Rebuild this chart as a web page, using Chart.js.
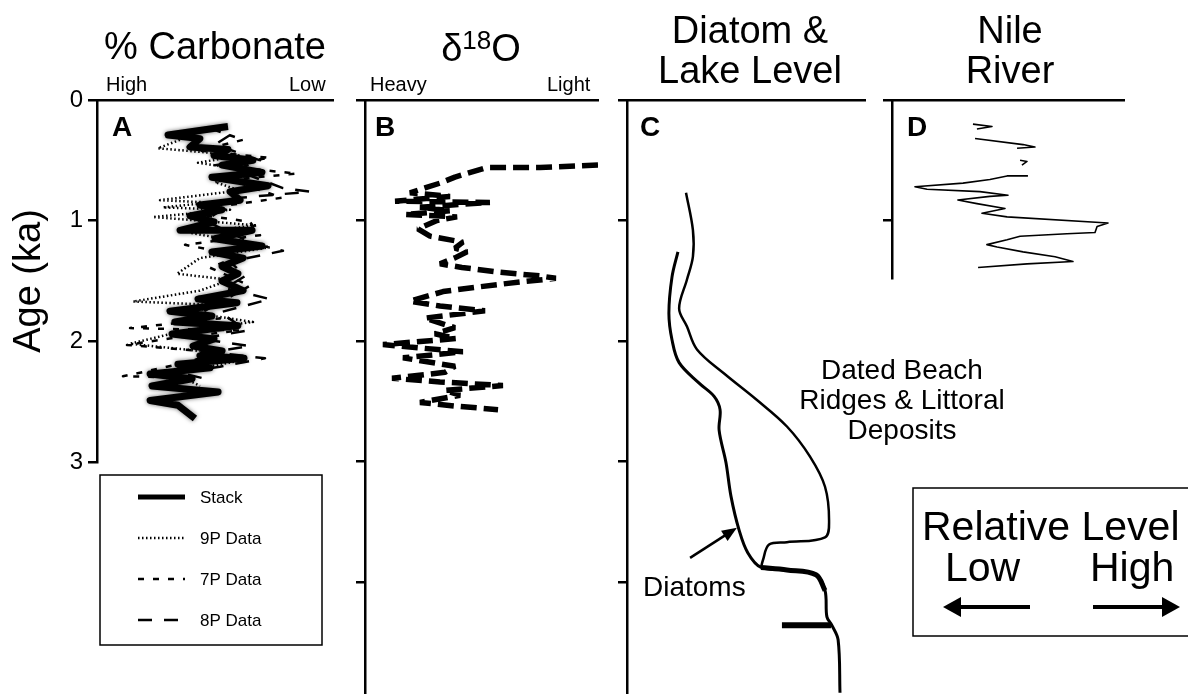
<!DOCTYPE html>
<html>
<head>
<meta charset="utf-8">
<script src="https://cdn.jsdelivr.net/npm/chart.js@4.4.1/dist/chart.umd.min.js"></script>
<style>
  body { margin: 0; background: #fff; }
  #fig { position: relative; width: 1188px; height: 694px; overflow: hidden;
         font-family: "Liberation Sans", Arial, Helvetica, sans-serif; color: #000; }
  #fig canvas { position: absolute; top: 0; }
  .t { position: absolute; white-space: nowrap; line-height: 1; }
  .title { font-size: 38px; transform: translateX(-50%); text-align: center; }
  .sub { font-size: 20px; }
  .letter { font-size: 28px; font-weight: bold; }
  .note { font-size: 28px; }
  .big { font-size: 41px; }
  sup { font-size: 26px; vertical-align: 0; position: relative; top: -12px; }
</style>
</head>
<body>
<div id="fig">
  <canvas id="chartA" width="340" height="694" style="left:0px"></canvas>
  <canvas id="chartB" width="260" height="694" style="left:340px"></canvas>
  <canvas id="chartC" width="268" height="694" style="left:600px"></canvas>
  <canvas id="chartD" width="260" height="694" style="left:868px"></canvas>

  <div class="t title" style="left:215px;top:27px">% Carbonate</div>
  <div class="t title" style="left:481px;top:29px">&delta;<sup>18</sup>O</div>
  <div class="t title" style="left:750px;line-height:40px;top:10px">Diatom &amp;<br>Lake Level</div>
  <div class="t title" style="left:1010px;line-height:40px;top:10px">Nile<br>River</div>

  <div class="t sub" style="left:106px;top:74px">High</div>
  <div class="t sub" style="left:289px;top:74px">Low</div>
  <div class="t sub" style="left:370px;top:74px">Heavy</div>
  <div class="t sub" style="left:547px;top:74px">Light</div>

  <div class="t letter" style="left:112px;top:113px">A</div>
  <div class="t letter" style="left:375px;top:113px">B</div>
  <div class="t letter" style="left:640px;top:113px">C</div>
  <div class="t letter" style="left:907px;top:113px">D</div>

  <div class="t note" style="left:902px;top:355px;line-height:30px;transform:translateX(-50%);text-align:center">Dated Beach<br>Ridges &amp; Littoral<br>Deposits</div>
  <div class="t note" style="left:643px;top:573px">Diatoms</div>

  <svg width="1188" height="694" style="position:absolute;left:0;top:0">
    <rect x="913" y="488" width="290" height="148" fill="none" stroke="#000" stroke-width="1.5"/>
    <line x1="955" y1="607" x2="1030" y2="607" stroke="#000" stroke-width="4"/>
    <polygon points="943,607 961,597 961,617" fill="#000"/>
    <line x1="1093" y1="607" x2="1168" y2="607" stroke="#000" stroke-width="4"/>
    <polygon points="1180,607 1162,597 1162,617" fill="#000"/>
  </svg>
  <div class="t big" style="left:922px;top:506px">Relative Level</div>
  <div class="t big" style="left:945px;top:547px">Low</div>
  <div class="t big" style="left:1090px;top:547px">High</div>
</div>

<script>
// values are [relative level (0-100 across the panel), age in ka]

// A: carbonate stack and the three core records
const carbonateStack = [[55.5,0.22],[47.9,0.24],[30.1,0.29],[43.6,0.32],[39.4,0.39],[55.5,0.41],[49.6,0.46],[66.1,0.50],[53.0,0.54],[69.9,0.60],[48.7,0.64],[72.5,0.71],[56.4,0.76],[60.6,0.83],[43.6,0.87],[53.0,0.91],[39.4,0.96],[49.6,1.01],[35.2,1.08],[65.7,1.08],[50.0,1.15],[69.9,1.21],[48.7,1.26],[61.9,1.31],[53.0,1.38],[59.7,1.44],[53.0,1.50],[61.9,1.58],[42.8,1.65],[59.3,1.68],[30.9,1.75],[48.7,1.79],[33.0,1.84],[59.7,1.87],[31.8,1.94],[49.6,1.98],[40.7,2.04],[53.0,2.08],[43.6,2.12],[62.3,2.14],[34.3,2.19],[47.9,2.22],[22.5,2.27],[40.3,2.31],[23.3,2.37],[51.3,2.42],[22.5,2.49],[34.3,2.53],[41.5,2.64]];
const core9P = [[45.8,0.23],[35.2,0.33],[25.8,0.40],[43.6,0.43],[60.6,0.46],[42.8,0.52],[56.4,0.56],[64.8,0.62],[50.0,0.68],[60.6,0.75],[26.7,0.83],[47.9,0.85],[28.0,0.89],[56.4,0.91],[23.7,0.97],[43.6,1.00],[67.8,1.04],[39.4,1.10],[73.3,1.22],[43.6,1.31],[33.9,1.44],[56.4,1.49],[43.6,1.58],[15.3,1.67],[52.1,1.70],[39.4,1.76],[66.1,1.84],[37.3,1.91],[14.0,2.02],[43.6,2.08],[60.6,2.16],[33.0,2.26],[43.6,2.37]];
const core7P = [[50.0,0.25],[61.9,0.33],[43.6,0.42],[73.3,0.48],[50.0,0.54],[84.7,0.61],[56.4,0.66],[78.4,0.81],[56.4,0.87],[43.6,0.95],[64.8,1.01],[69.1,1.12],[37.3,1.20],[60.6,1.29],[47.9,1.39],[64.8,1.54],[43.6,1.77],[52.1,1.81],[14.0,1.89],[60.6,1.91],[33.0,1.97],[12.7,2.03],[50.0,2.09],[39.4,2.17],[11.0,2.29],[39.4,2.30],[26.7,2.37]];
const core8P = [[56.4,0.29],[50.0,0.37],[69.1,0.50],[58.5,0.58],[78.8,0.73],[90.2,0.76],[60.6,0.81],[45.8,1.00],[66.1,1.19],[78.8,1.25],[56.4,1.34],[62.7,1.46],[54.2,1.56],[73.3,1.65],[52.1,1.76],[63.6,1.91],[43.6,1.98],[64.8,2.04],[47.9,2.09],[71.2,2.14],[52.1,2.21],[35.2,2.26],[47.9,2.32]];

// B: oxygen isotopes
const d18O = [[100.0,0.54],[75.1,0.56],[52.3,0.56],[38.6,0.64],[32.2,0.69],[25.7,0.73],[19.3,0.77],[36.5,0.80],[12.9,0.84],[53.6,0.85],[23.6,0.89],[36.5,0.92],[17.2,0.95],[39.5,0.97],[30.9,1.00],[22.7,1.07],[27.9,1.13],[42.0,1.18],[38.6,1.23],[43.8,1.26],[38.6,1.31],[32.2,1.36],[41.6,1.39],[57.9,1.43],[75.1,1.46],[81.9,1.48],[66.5,1.51],[49.3,1.55],[33.5,1.59],[19.3,1.67],[32.2,1.71],[51.5,1.75],[25.7,1.81],[38.6,1.89],[30.0,1.94],[39.0,1.98],[7.7,2.03],[42.0,2.09],[16.3,2.14],[38.6,2.21],[34.3,2.26],[11.6,2.31],[32.2,2.34],[59.2,2.37],[34.3,2.41],[40.8,2.45],[23.6,2.51],[38.6,2.54],[57.1,2.57]];

// C: lake level from beach ridges and diatoms
const ridgeLevel = [[24.8,0.77],[27.7,1.08],[27.7,1.30],[25.2,1.49],[21.9,1.73],[25.2,1.88],[29.4,2.07],[40.8,2.27],[54.6,2.49],[67.2,2.71],[76.9,2.96],[83.2,3.21],[84.9,3.49],[83.2,3.63],[67.2,3.67],[59.7,3.69],[57.1,3.82],[56.3,3.88]];
const diatomLevel = [[21.4,1.26],[18.9,1.47],[17.6,1.77],[18.9,1.99],[21.9,2.18],[30.3,2.35],[36.6,2.46],[39.1,2.57],[38.7,2.74],[41.6,3.01],[43.7,3.29],[47.1,3.57],[50.8,3.76],[56.3,3.88],[67.2,3.90],[79.4,3.94],[83.2,4.07],[84.0,4.29],[86.1,4.36],[88.7,4.48],[89.5,4.92]];
const diatomHighstand = [[56.3,3.88],[67.2,3.90],[79.4,3.94],[83.2,4.07]];
const lakeStep = [[65.1,4.36],[85.7,4.36]];
const diatomArrow = [[26.5,3.80],[46.2,3.55]];

// D: Nile river, pieces of one record
const nileSegments = [
  [[34.9,0.20],[43.1,0.22],[36.6,0.24]],
  [[35.8,0.32],[56.5,0.37],[61.6,0.39],[53.9,0.40]],
  [[55.2,0.50],[58.2,0.51],[56.0,0.54]],
  [[58.6,0.63],[49.6,0.63],[42.2,0.66],[30.6,0.69],[9.9,0.72],[15.1,0.74],[37.9,0.76],[50.0,0.79],[42.2,0.80],[28.4,0.83],[36.6,0.86],[48.7,0.90],[38.8,0.94],[49.6,0.97],[93.1,1.02],[88.4,1.05],[87.5,1.10],[75.4,1.11],[55.2,1.13],[49.6,1.16],[40.9,1.20],[45.3,1.22],[56.5,1.26],[70.3,1.30],[78.0,1.34],[58.2,1.36],[37.1,1.39]]
];

const FONT = '"Liberation Sans", Arial, Helvetica, sans-serif';
Chart.defaults.font.family = FONT;
Chart.defaults.color = '#000';

const pts = arr => arr.map(p => ({x: p[0], y: p[1]}));

function line(label, arr, width, dash, tension, join) {
  return {
    label: label,
    data: pts(arr),
    showLine: true,
    borderColor: '#000',
    backgroundColor: '#000',
    borderWidth: width,
    borderDash: dash || [],
    borderCapStyle: 'butt',
    borderJoinStyle: join || 'round',
    pointRadius: 0,
    tension: tension || 0
  };
}

function ageAxis(max, width, labels, title) {
  return {
    type: 'linear',
    reverse: true,
    min: 0,
    max: max,
    afterFit: s => { s.width = width; },
    ticks: { stepSize: 1, includeBounds: false, display: labels, padding: 5, font: { size: 24 } },
    grid: { drawOnChartArea: false, drawTicks: true, tickLength: 9, color: '#000', lineWidth: 2.5 },
    border: { color: '#000', width: 2.5 },
    title: title ? { display: true, text: title, font: { size: 38 }, padding: { top: 7 } } : { display: false }
  };
}

const levelAxis = {
  type: 'linear',
  position: 'top',
  min: 0,
  max: 100,
  afterFit: s => { s.height = 0; },
  ticks: { display: false },
  grid: { display: false },
  border: { color: '#000', width: 2.5 }
};

function options(padding, yAxis) {
  return {
    responsive: false,
    animation: false,
    devicePixelRatio: 1,
    layout: { padding: padding },
    scales: { x: levelAxis, y: yAxis },
    plugins: { legend: { display: false }, tooltip: { enabled: false } }
  };
}

// boxed key under panel A, drawn from the dataset styles
const boxLegend = {
  id: 'boxLegend',
  afterDraw(chart) {
    const {ctx, chartArea} = chart;
    const left = chartArea.left + 3, top = chartArea.bottom + 13;
    ctx.save();
    ctx.strokeStyle = '#000';
    ctx.fillStyle = '#000';
    ctx.lineWidth = 1.5;
    ctx.strokeRect(left, top, 222, 170);
    ctx.font = '17px ' + FONT;
    ctx.textBaseline = 'middle';
    chart.data.datasets.forEach((ds, i) => {
      const y = top + 22 + i * 41;
      ctx.beginPath();
      ctx.lineWidth = Math.min(ds.borderWidth, 5);
      ctx.setLineDash(ds.borderDash);
      ctx.moveTo(left + 38, y);
      ctx.lineTo(left + 85, y);
      ctx.stroke();
      ctx.setLineDash([]);
      ctx.fillText(ds.label, left + 100, y + 1);
    });
    ctx.restore();
  }
};

// soft edge on the stacked record
const stackHaze = {
  id: 'stackHaze',
  beforeDatasetDraw(chart, args) {
    if (args.index !== 0) return;
    chart.ctx.save();
    chart.ctx.shadowColor = 'rgba(0,0,0,0.55)';
    chart.ctx.shadowBlur = 4;
  },
  afterDatasetDraw(chart, args) {
    if (args.index === 0) chart.ctx.restore();
  }
};

// pointer from the "Diatoms" label to the diatom curve
const pointer = {
  id: 'pointer',
  afterDatasetsDraw(chart) {
    const {ctx, scales: {x, y}} = chart;
    const x1 = x.getPixelForValue(diatomArrow[0][0]), y1 = y.getPixelForValue(diatomArrow[0][1]);
    const x2 = x.getPixelForValue(diatomArrow[1][0]), y2 = y.getPixelForValue(diatomArrow[1][1]);
    const a = Math.atan2(y2 - y1, x2 - x1);
    ctx.save();
    ctx.strokeStyle = '#000';
    ctx.fillStyle = '#000';
    ctx.lineWidth = 2.5;
    ctx.beginPath();
    ctx.moveTo(x1, y1);
    ctx.lineTo(x2 - 10 * Math.cos(a), y2 - 10 * Math.sin(a));
    ctx.stroke();
    ctx.beginPath();
    ctx.moveTo(x2, y2);
    ctx.lineTo(x2 - 15 * Math.cos(a) + 6 * Math.sin(a), y2 - 15 * Math.sin(a) - 6 * Math.cos(a));
    ctx.lineTo(x2 - 15 * Math.cos(a) - 6 * Math.sin(a), y2 - 15 * Math.sin(a) + 6 * Math.cos(a));
    ctx.closePath();
    ctx.fill();
    ctx.restore();
  }
};

new Chart(document.getElementById('chartA'), {
  type: 'scatter',
  data: {
    datasets: [
      line('Stack', carbonateStack, 7),
      line('9P Data', core9P, 2.5, [1.5, 2.5]),
      line('7P Data', core7P, 2.5, [6, 9]),
      line('8P Data', core8P, 2.5, [14, 12])
    ]
  },
  options: options({ top: 100, right: 7, bottom: 232, left: 0 }, ageAxis(3, 97, true, 'Age (ka)')),
  plugins: [boxLegend, stackHaze]
});

new Chart(document.getElementById('chartB'), {
  type: 'scatter',
  data: { datasets: [line('δ18O', d18O, 5.5, [16, 7], 0, 'bevel')] },
  options: options({ top: 100, right: 2, bottom: 0, left: 0 }, ageAxis(4.93, 25, false))
});

new Chart(document.getElementById('chartC'), {
  type: 'scatter',
  data: {
    datasets: [
      line('Beach ridges', ridgeLevel, 2.5, null, 0.35),
      line('Diatoms', diatomLevel, 3, null, 0.35),
      line('Diatom highstand', diatomHighstand, 5, null, 0.35),
      line('Step', lakeStep, 6)
    ]
  },
  options: options({ top: 100, right: 3, bottom: 0, left: 0 }, ageAxis(4.93, 27, false)),
  plugins: [pointer]
});

new Chart(document.getElementById('chartD'), {
  type: 'scatter',
  data: { datasets: nileSegments.map((seg, i) => line('Nile ' + (i + 1), seg, 1.6)) },
  options: options({ top: 100, right: 4, bottom: 416, left: 0 }, ageAxis(1.477, 24, false))
});
</script>
</body>
</html>
